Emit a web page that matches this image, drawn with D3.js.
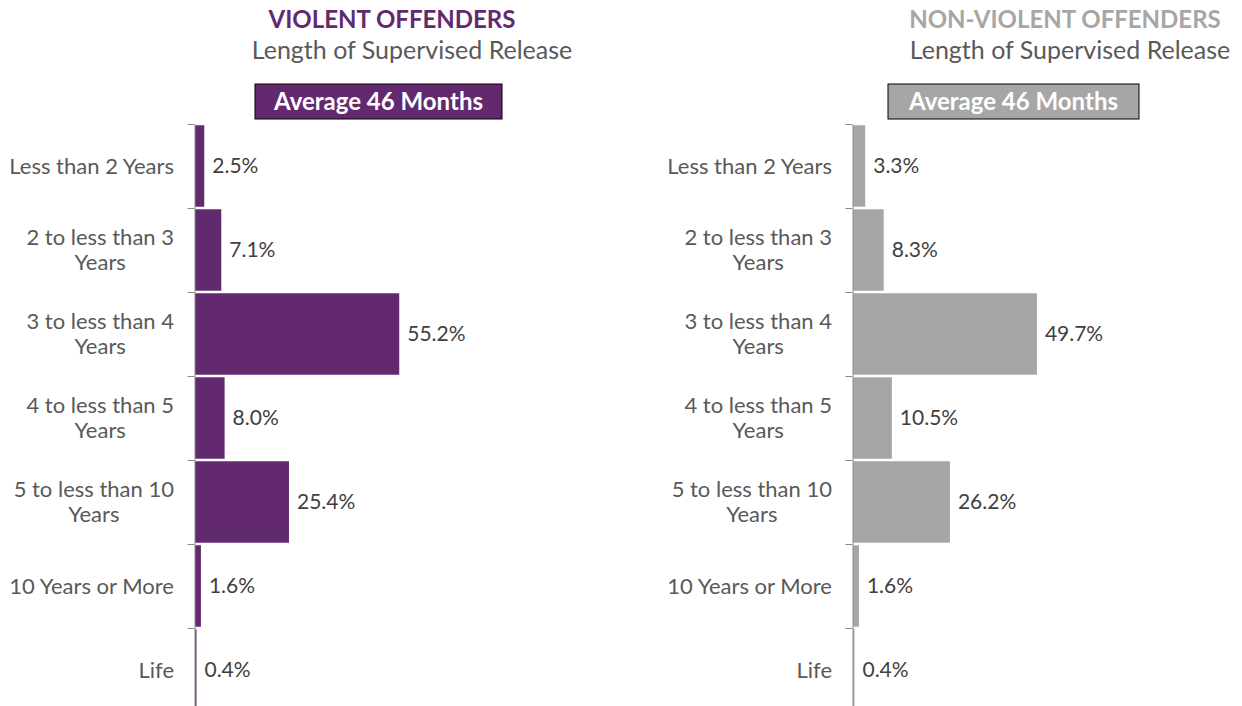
<!DOCTYPE html>
<html>
<head>
<meta charset="utf-8">
<script src="https://cdn.jsdelivr.net/npm/d3@7"></script>
<style>
  body { margin: 0; background: #fff; }
  text { font-family: Lato, "Open Sans", sans-serif; }
</style>
</head>
<body>
<div id="chart"></div>
<script>
'use strict';

var categories = ['Less than 2 Years', '2 to less than 3 Years', '3 to less than 4 Years',
    '4 to less than 5 Years', '5 to less than 10 Years', '10 Years or More', 'Life'];
var violentValues = [2.5, 7.1, 55.2, 8.0, 25.4, 1.6, 0.4];
var nonViolentValues = [3.3, 8.3, 49.7, 10.5, 26.2, 1.6, 0.4];
var averageLabels = ['Average 46 Months', 'Average 46 Months'];
var panelTitles = ['VIOLENT OFFENDERS', 'NON-VIOLENT OFFENDERS'];
var subTitle = 'Length of Supervised Release';

var Charts = function charts() {

    let svg = null;

    let renderSVG = function renderSVG(element, config) {
        svg = d3.select(element)
            .append('svg')
            .attr('width', config.width)
            .attr('height', config.height);
    };

    // break a label into lines no wider than maxWidth; the block sits
    // right-aligned at x and its lines are centred inside it
    let wrap = function wrap(textSel, maxWidth, lineHeight, fontSize) {
        textSel.each(function () {
            let text = d3.select(this);
            let words = text.text().split(' ');
            let right = +text.attr('x');
            let lines = [];
            let line = [];
            let blockWidth = 0;
            text.text(null);
            let probe = text.append('tspan');
            words.forEach(w => {
                line.push(w);
                probe.text(line.join(' '));
                if (probe.node().getComputedTextLength() > maxWidth && line.length > 1) {
                    line.pop();
                    lines.push(line.join(' '));
                    line = [w];
                }
            });
            lines.push(line.join(' '));
            lines.forEach(l => {
                probe.text(l);
                blockWidth = Math.max(blockWidth, probe.node().getComputedTextLength());
            });
            probe.remove();
            let cx = right - blockWidth / 2;
            text.attr('text-anchor', 'middle').attr('x', cx);
            let start = -(lines.length - 1) / 2 * lineHeight + 0.35 * fontSize;
            lines.forEach((l, i) => {
                text.append('tspan')
                    .attr('x', cx)
                    .attr('dy', i === 0 ? start : lineHeight)
                    .text(l);
            });
        });
    };

    let drawPanel = function drawPanel(p) {

        let g = svg.append('g').attr('class', 'panel');

        let yScale = d3.scaleBand()
            .domain(categories)
            .range([124, 712])
            .paddingInner(0.03)
            .paddingOuter(0.015);

        let tickScale = d3.scaleLinear()
            .domain([0, categories.length])
            .range([124, 712]);

        let xScale = d3.scaleLinear()
            .domain([0, 100])
            .range([p.axisX + 1, p.axisX + 1 + 370]);

        // titles
        g.append('text')
            .attr('x', p.titleX)
            .attr('y', 28)
            .attr('text-anchor', 'middle')
            .attr('font-weight', 'bold')
            .attr('font-size', 24)
            .attr('fill', p.titleColour)
            .text(p.title);

        g.append('text')
            .attr('x', p.subX)
            .attr('y', 59)
            .attr('text-anchor', 'middle')
            .attr('font-size', 25)
            .attr('fill', '#595959')
            .text(subTitle);

        // average box
        g.append('rect')
            .attr('x', p.boxX)
            .attr('y', 84)
            .attr('width', p.boxW)
            .attr('height', 35)
            .attr('fill', p.colour)
            .attr('stroke', '#000')
            .attr('stroke-width', 1);

        g.append('text')
            .attr('x', p.boxX + p.boxW / 2)
            .attr('y', 110)
            .attr('text-anchor', 'middle')
            .attr('font-weight', 'bold')
            .attr('font-size', 24)
            .attr('fill', '#fff')
            .text(p.average);

        // bars
        g.selectAll('.bar')
            .data(p.values)
            .enter()
            .append('rect')
            .attr('class', 'bar')
            .attr('x', xScale(0))
            .attr('y', (d, i) => yScale(categories[i]))
            .attr('width', d => xScale(d) - xScale(0))
            .attr('height', yScale.bandwidth())
            .attr('fill', p.colour);

        // value labels
        g.selectAll('.value')
            .data(p.values)
            .enter()
            .append('text')
            .attr('class', 'value')
            .attr('x', d => xScale(d) + 8)
            .attr('y', (d, i) => yScale(categories[i]) + yScale.bandwidth() / 2)
            .attr('dy', '0.35em')
            .attr('font-size', 21)
            .attr('fill', '#404040')
            .text(d => d.toFixed(1) + '%');

        // axis
        let axis = d3.axisLeft(tickScale)
            .tickValues(d3.range(categories.length + 1))
            .tickSize(7)
            .tickSizeOuter(0)
            .tickFormat('');

        let ax = g.append('g')
            .attr('class', 'axis')
            .attr('transform', 'translate(' + (p.axisX + 0.5) + ',0)')
            .call(axis);
        ax.select('.domain').attr('stroke', '#8c8c8c');
        ax.selectAll('.tick line').attr('stroke', '#8c8c8c');

        // category labels
        g.selectAll('.cat')
            .data(categories)
            .enter()
            .append('text')
            .attr('class', 'cat')
            .attr('x', p.axisX - 20)
            .attr('y', d => yScale(d) + yScale.bandwidth() / 2)
            .attr('font-size', 22)
            .attr('fill', '#595959')
            .text(d => d)
            .call(wrap, 170, 25, 22);
    };

    let render = function render(el) {
        let config = { width: 1242, height: 706 };
        renderSVG(el, config);

        drawPanel({
            axisX: 194, values: violentValues, colour: '#63296f',
            title: panelTitles[0], titleColour: '#63296f', titleX: 392, subX: 412,
            boxX: 255, boxW: 247, average: averageLabels[0]
        });

        drawPanel({
            axisX: 852, values: nonViolentValues, colour: '#a6a6a6',
            title: panelTitles[1], titleColour: '#a6a6a6', titleX: 1065, subX: 1070,
            boxX: 888, boxW: 251, average: averageLabels[1]
        });
    };

    return { render: render };
};

Charts().render('#chart');
</script>
</body>
</html>
